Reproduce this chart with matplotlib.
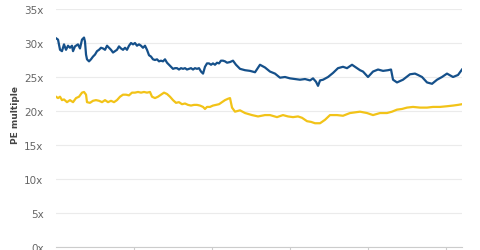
import matplotlib.pyplot as plt
from matplotlib.ticker import FuncFormatter

# months since start of series
blue_months = [
    0.00, 0.31, 0.62, 0.92, 1.23, 1.54, 1.85, 2.15, 2.46, 2.62, 2.92, 3.38, 3.69,
    4.00, 4.31, 4.46, 4.62, 4.77, 5.08, 5.38, 5.69, 6.00, 6.31, 6.62, 6.92, 7.23,
    7.54, 7.85, 8.15, 8.46, 8.77, 9.08, 9.38, 9.69, 10.00, 10.31, 10.62, 10.92,
    11.23, 11.54, 11.85, 12.15, 12.46, 12.77, 13.08, 13.38, 13.69, 14.00, 14.31,
    14.62, 14.92, 15.23, 15.54, 15.85, 16.15, 16.46, 16.77, 17.08, 17.38, 17.69,
    18.00, 18.31, 18.62, 18.92, 19.23, 19.54, 19.85, 20.15, 20.46, 20.77, 21.08,
    21.38, 21.69, 22.00, 22.31, 22.62, 22.92, 23.23, 23.54, 23.85, 24.15, 24.46,
    24.77, 25.08, 25.38, 25.69, 26.00, 26.31, 26.77, 27.23, 27.69, 28.31, 29.08,
    29.85, 30.62, 31.38, 32.15, 32.92, 33.69, 34.46, 35.23, 36.00, 36.77, 37.54,
    38.31, 39.08, 39.54, 40.00, 40.31, 40.62, 41.08, 41.85, 42.62, 43.38, 44.15,
    44.77, 45.54, 46.00, 46.31, 46.77, 47.23, 48.00, 48.77, 49.54, 50.31, 51.08,
    51.54, 51.85, 52.46, 53.38, 54.46, 55.23, 55.69, 56.31, 57.08, 57.85, 58.62,
    59.38, 60.15, 61.08, 61.85, 62.46,
]
blue_pe = [
    30.7, 30.5, 29.0, 28.8, 29.8, 29.0, 29.6, 29.3, 29.6, 28.8, 29.5, 29.8, 29.2,
    30.5, 30.8, 30.2, 28.3, 27.6, 27.3, 27.6, 28.0, 28.3, 28.8, 29.0, 29.3, 29.2,
    29.0, 29.6, 29.3, 29.0, 28.6, 28.8, 29.0, 29.5, 29.2, 29.0, 29.3, 29.0,
    29.6, 30.0, 29.8, 30.0, 29.6, 29.8, 29.6, 29.3, 29.6, 29.0, 28.2,
    28.0, 27.6, 27.5, 27.6, 27.3, 27.4, 27.3, 27.6, 27.1, 26.8, 26.5,
    26.2, 26.3, 26.3, 26.1, 26.3, 26.2, 26.3, 26.1, 26.2, 26.3, 26.1,
    26.3, 26.2, 26.3, 25.8, 25.5, 26.5, 27.0, 27.0, 26.8, 27.0, 26.8,
    27.1, 27.0, 27.4, 27.4, 27.3, 27.1, 27.2, 27.4, 26.8, 26.2, 26.0,
    25.9, 25.7, 26.8, 26.4, 25.8, 25.5, 24.9, 25.0, 24.8, 24.7, 24.6,
    24.7, 24.5, 24.8, 24.3, 23.7, 24.5, 24.6, 25.0, 25.6, 26.3, 26.5,
    26.3, 26.8, 26.5, 26.3, 26.0, 25.8, 25.0, 25.8, 26.1, 25.9, 26.0,
    26.1, 24.6, 24.2, 24.6, 25.4, 25.5, 25.3, 25.0, 24.2, 24.0, 24.6,
    25.0, 25.5, 25.0, 25.3, 26.1,
]

yellow_months = [
    0.00, 0.31, 0.62, 0.92, 1.23, 1.69, 2.15, 2.62, 3.08, 3.54, 4.00, 4.31, 4.62,
    4.77, 5.23, 5.69, 6.15, 6.62, 7.08, 7.54, 8.00, 8.46, 8.92, 9.38, 9.85, 10.31,
    10.77, 11.23, 11.69, 12.15, 12.62, 13.08, 13.54, 14.00, 14.46, 14.77, 15.23,
    15.69, 16.15, 16.62, 17.08, 17.54, 18.00, 18.46, 18.92, 19.38, 19.85, 20.31,
    20.77, 21.23, 21.69, 22.15, 22.62, 22.92, 23.23, 23.69, 24.15, 24.62, 25.08,
    25.54, 26.00, 26.46, 26.77, 27.08, 27.54, 28.31, 29.08, 30.15, 31.08, 32.15,
    32.92, 34.00, 34.92, 35.69, 36.46, 37.23, 37.85, 38.62, 39.23, 39.85, 40.62,
    41.38, 42.15, 43.23, 44.15, 45.23, 46.00, 46.77, 47.85, 48.77, 49.85, 50.92,
    51.69, 52.46, 53.23, 54.00, 54.92, 56.00, 57.08, 58.00, 59.08, 60.15, 61.08,
    61.85, 62.46,
]
yellow_pe = [
    22.1, 21.9, 22.1, 21.6, 21.7, 21.3, 21.6, 21.3, 21.9, 22.1, 22.7, 22.8, 22.4,
    21.3, 21.2, 21.5, 21.6, 21.5, 21.3, 21.6, 21.3, 21.5, 21.3, 21.6, 22.1, 22.4,
    22.4, 22.3, 22.7, 22.7, 22.8, 22.7, 22.8, 22.7, 22.8, 22.1, 21.9,
    22.1, 22.4, 22.7, 22.5, 22.1, 21.6, 21.2, 21.3, 21.0, 21.1, 20.9,
    20.8, 20.9, 20.9, 20.8, 20.6, 20.3, 20.6, 20.6, 20.8, 20.9, 21.0,
    21.3, 21.6, 21.8, 21.9, 20.5, 19.9, 20.1, 19.7, 19.4, 19.2, 19.4,
    19.4, 19.1, 19.4, 19.2, 19.1, 19.2, 19.0, 18.5, 18.4, 18.2, 18.2,
    18.7, 19.4, 19.4, 19.3, 19.7, 19.8, 19.9, 19.7, 19.4, 19.7, 19.7,
    19.9, 20.2, 20.3, 20.5, 20.6, 20.5, 20.5, 20.6, 20.6, 20.7, 20.8,
    20.9, 21.0,
]

y_ticks = [0, 5, 10, 15, 20, 25, 30, 35]
x_ticks = [12, 24, 36, 48, 60]

fig = plt.figure(figsize=(4.8, 2.51), dpi=100)
ax = fig.add_axes([56 / 480, 1 - 248 / 251, 406 / 480, 238 / 251])

ax.plot(blue_months, blue_pe, color="#15508a", lw=1.6, solid_joinstyle="round")
ax.plot(yellow_months, yellow_pe, color="#f2c318", lw=1.6, solid_joinstyle="round")

ax.set_ylim(0, 35)
ax.set_xlim(blue_months[0], blue_months[-1])
ax.set_yticks(y_ticks)
ax.yaxis.set_major_formatter(FuncFormatter(lambda v, _: f"{v:.0f}x"))
ax.set_xticks(x_ticks)
ax.set_xticklabels([])

ax.grid(axis="y", color="#ebebeb", lw=0.8)
ax.set_axisbelow(True)
for side in ["top", "right", "left"]:
    ax.spines[side].set_visible(False)
ax.spines["bottom"].set_color("#cccccc")
ax.spines["bottom"].set_linewidth(0.8)

ax.tick_params(axis="y", length=0, pad=9, labelsize=7.5, labelcolor="#666666")
ax.tick_params(axis="x", length=4, color="#cccccc", width=0.8)

fig.text(16 / 480, 1 - 115 / 251, "PE multiple", rotation=90, ha="center",
         va="center", fontsize=6.5, fontweight="bold", color="#444444")

fig.savefig("out.png", dpi=100)
